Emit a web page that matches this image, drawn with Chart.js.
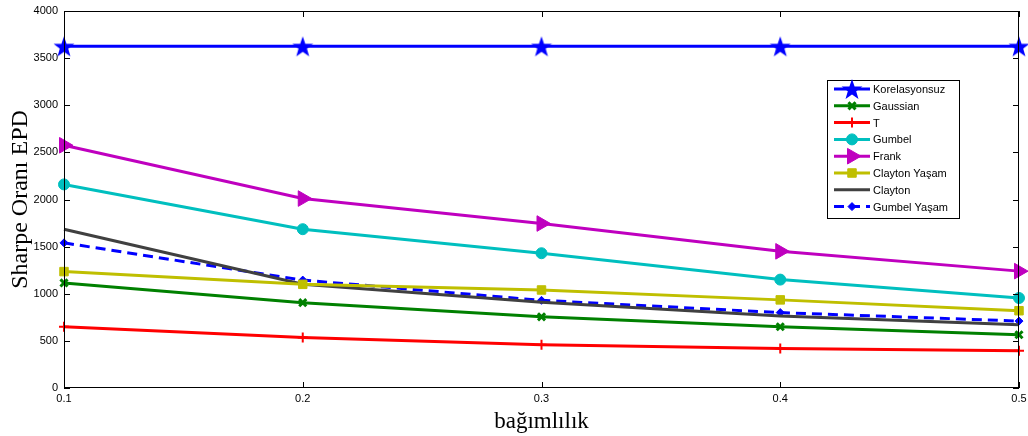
<!DOCTYPE html>
<html>
<head>
<meta charset="utf-8">
<script src="https://cdn.jsdelivr.net/npm/chart.js@4.4.1/dist/chart.umd.min.js"></script>
<style>
  html, body { margin: 0; padding: 0; background: #fff; }
  #wrap { width: 1028px; height: 436px; }
</style>
</head>
<body>
<div id="wrap"><canvas id="chart"></canvas></div>
<script>
// data
const dependence = ['0.1', '0.2', '0.3', '0.4', '0.5'];
const korelasyonsuz = [3625, 3625, 3625, 3625, 3625];
const gaussian = [1115, 905, 755, 650, 565];
const tCopula = [650, 535, 460, 420, 395];
const gumbel = [2160, 1685, 1430, 1150, 955];
const frank = [2575, 2010, 1745, 1450, 1240];
const claytonYasam = [1235, 1100, 1040, 935, 820];
const clayton = [1685, 1100, 910, 765, 670];
const gumbelYasam = [1540, 1145, 930, 800, 710];
const yTicks = [0, 500, 1000, 1500, 2000, 2500, 3000, 3500, 4000];

// five-pointed star marker (MATLAB pentagram)
function pentagram(size, color) {
    const c = document.createElement('canvas');
    c.width = size; c.height = size;
    const g = c.getContext('2d');
    const cx = size / 2, cy = size / 2 + 1, R = size / 2, r = R * 0.4;
    g.beginPath();
    for (let i = 0; i < 10; i++) {
        const rad = i % 2 === 0 ? R : r;
        const a = -Math.PI / 2 + i * Math.PI / 5;
        const px = cx + rad * Math.cos(a), py = cy + rad * Math.sin(a);
        if (i === 0) g.moveTo(px, py); else g.lineTo(px, py);
    }
    g.closePath();
    g.fillStyle = color;
    g.fill();
    return c;
}

const starImg = pentagram(22, '#0000ff');

function series(label, data, color, extra) {
    return Object.assign({
        label: label,
        data: data,
        borderColor: color,
        backgroundColor: color,
        pointBorderColor: color,
        pointBackgroundColor: color,
        borderWidth: 3,
        tension: 0,
        fill: false,
        clip: 12
    }, extra);
}

const datasets = [
    series('Korelasyonsuz', korelasyonsuz, '#0000ff', { pointStyle: starImg, pointRadius: 11 }),
    series('Gaussian', gaussian, '#008000', { pointStyle: 'crossRot', pointRadius: 5, pointBorderWidth: 3 }),
    series('T', tCopula, '#ff0000', { pointStyle: 'cross', pointRadius: 5, pointBorderWidth: 2 }),
    series('Gumbel', gumbel, '#00bfbf', { pointStyle: 'circle', pointRadius: 5.5, pointBorderWidth: 1 }),
    series('Frank', frank, '#bf00bf', { pointStyle: 'triangle', pointRadius: 9, pointRotation: 90, pointBorderWidth: 1 }),
    series('Clayton Yaşam', claytonYasam, '#bfbf00', { pointStyle: 'rect', pointRadius: 6, pointBorderWidth: 1 }),
    series('Clayton', clayton, '#404040', { pointRadius: 0 }),
    series('Gumbel Yaşam', gumbelYasam, '#0000ff', { borderDash: [10, 6], pointStyle: 'rectRot', pointRadius: 4, pointBorderWidth: 1 })
];

// MATLAB-like box and inward ticks
const boxPlugin = {
    id: 'box',
    afterDraw(chart) {
        const ctx = chart.ctx;
        const a = chart.chartArea;
        const xs = chart.scales.x, ys = chart.scales.y;
        ctx.save();
        ctx.strokeStyle = '#000';
        ctx.lineWidth = 1;
        ctx.strokeRect(a.left + 0.5, a.top + 0.5, a.right - a.left - 1, a.bottom - a.top - 1);
        ctx.beginPath();
        dependence.forEach((d, i) => {
            const x = Math.round(xs.getPixelForValue(i)) + 0.5;
            ctx.moveTo(x, a.bottom); ctx.lineTo(x, a.bottom - 6);
            ctx.moveTo(x, a.top); ctx.lineTo(x, a.top + 6);
        });
        yTicks.forEach(v => {
            const y = Math.round(ys.getPixelForValue(v)) + 0.5;
            ctx.moveTo(a.left, y); ctx.lineTo(a.left + 6, y);
            ctx.moveTo(a.right, y); ctx.lineTo(a.right - 6, y);
        });
        ctx.stroke();
        ctx.restore();
    }
};

// legend box inside the plot, top right
const legendPlugin = {
    id: 'innerLegend',
    afterDraw(chart) {
        const ctx = chart.ctx;
        const left = 827, top = 80, w = 132, h = 138;
        ctx.save();
        ctx.fillStyle = '#fff';
        ctx.fillRect(left, top, w, h);
        ctx.strokeStyle = '#000';
        ctx.lineWidth = 1;
        ctx.strokeRect(left + 0.5, top + 0.5, w, h);
        ctx.font = '11px "Liberation Sans", Arial, sans-serif';
        ctx.textBaseline = 'middle';
        chart.data.datasets.forEach((ds, i) => {
            const y = top + 9 + i * 16.8;
            ctx.strokeStyle = ds.borderColor;
            ctx.lineWidth = ds.borderWidth;
            ctx.setLineDash(ds.borderDash || []);
            ctx.beginPath();
            ctx.moveTo(left + 7, y);
            ctx.lineTo(left + 43, y);
            ctx.stroke();
            ctx.setLineDash([]);
            if (ds.pointRadius > 0) {
                ctx.fillStyle = ds.pointBackgroundColor;
                ctx.strokeStyle = ds.pointBorderColor;
                ctx.lineWidth = ds.pointBorderWidth || 1;
                Chart.helpers.drawPoint(ctx, {
                    pointStyle: ds.pointStyle,
                    radius: ds.pointRadius,
                    rotation: ds.pointRotation || 0,
                    borderWidth: ds.pointBorderWidth || 1
                }, left + 25, y);
            }
            ctx.fillStyle = '#000';
            ctx.fillText(ds.label, left + 46, y + 1);
        });
        ctx.restore();
    }
};

new Chart(document.getElementById('chart'), {
    type: 'line',
    data: { labels: dependence, datasets: datasets },
    options: {
        responsive: true,
        maintainAspectRatio: false,
        animation: false,
        layout: { autoPadding: false, padding: { top: 11, right: 9, left: 0, bottom: 0 } },
        plugins: {
            legend: { display: false },
            tooltip: { enabled: false }
        },
        scales: {
            x: {
                offset: false,
                grid: { display: false, drawTicks: false },
                border: { display: false },
                ticks: {
                    color: '#000',
                    padding: 4,
                    maxRotation: 0,
                    font: { family: '"Liberation Sans", Arial, sans-serif', size: 11 }
                },
                title: {
                    display: true,
                    text: 'bağımlılık',
                    color: '#000',
                    padding: { top: 2, bottom: 0 },
                    font: { family: '"Liberation Serif", "Times New Roman", serif', size: 23 }
                },
                afterFit(scale) {
                    scale.height = 48;
                    scale.paddingLeft = 0;
                    scale.paddingRight = 0;
                }
            },
            y: {
                min: 0,
                max: 4000,
                grid: { display: false, drawTicks: false },
                border: { display: false },
                ticks: {
                    stepSize: 500,
                    color: '#000',
                    padding: 6,
                    callback: v => String(v),
                    font: { family: '"Liberation Sans", Arial, sans-serif', size: 11 }
                },
                title: {
                    display: true,
                    text: 'Sharpe Oranı EPD',
                    color: '#000',
                    padding: { top: 6, bottom: 0 },
                    font: { family: '"Liberation Serif", "Times New Roman", serif', size: 24 }
                },
                afterFit(scale) {
                    scale.width = 64;
                    scale.paddingTop = 0;
                    scale.paddingBottom = 0;
                }
            }
        }
    },
    plugins: [boxPlugin, legendPlugin]
});
</script>
</body>
</html>
